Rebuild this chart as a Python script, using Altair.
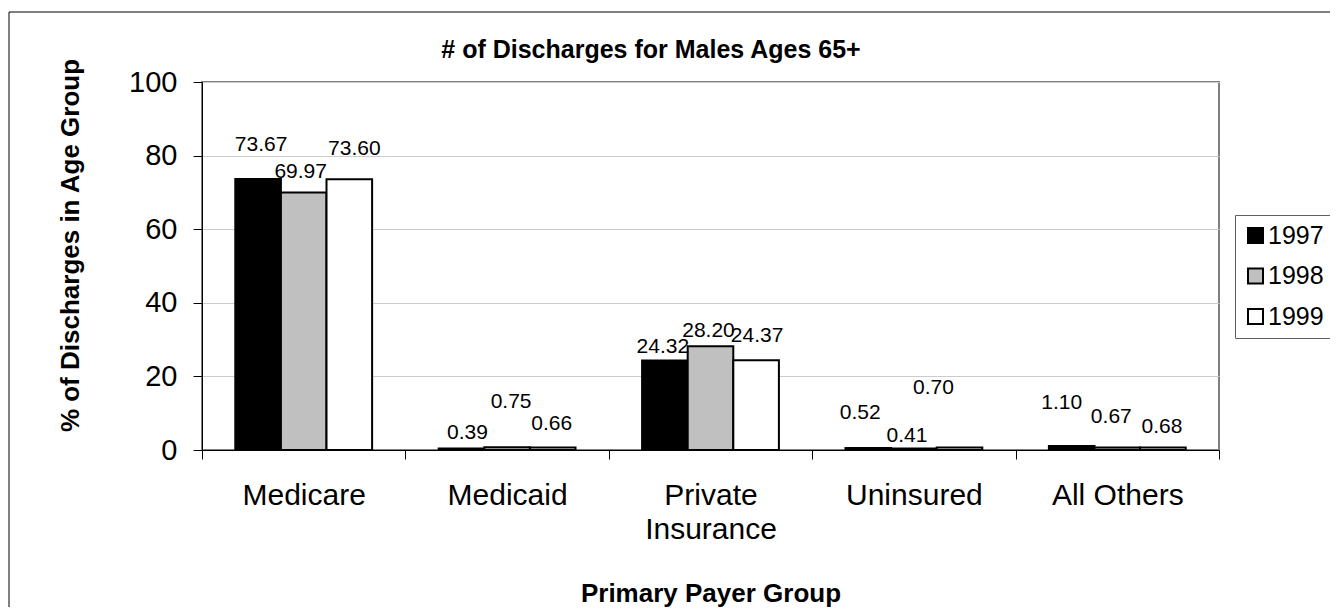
import altair as alt
import pandas as pd

# ---- data ----
categories = ["Medicare", "Medicaid", "Private Insurance", "Uninsured", "All Others"]
years = ["1997", "1998", "1999"]
v1997 = [73.67, 0.39, 24.32, 0.52, 1.10]
v1998 = [69.97, 0.75, 28.20, 0.41, 0.67]
v1999 = [73.60, 0.66, 24.37, 0.70, 0.68]
# height (in % units) at which each value label sits in the original
lab1997 = [82.9, 4.5, 28.0, 10.0, 12.7]
lab1998 = [75.6, 13.1, 32.3, 3.8, 9.0]
lab1999 = [81.7, 7.0, 31.0, 16.8, 6.3]
# horizontal nudge of each value label (px), as placed in the original
dx1997 = [3, 6, -2, -8, -10]
dx1998 = [-3, 4, -2, -7, -6]
dx1999 = [5, -1, 1, -26, -1]

title_text = "# of Discharges for Males Ages 65+"

rows = []
for yr, vals, labs, dxs in zip(years, [v1997, v1998, v1999],
                               [lab1997, lab1998, lab1999], [dx1997, dx1998, dx1999]):
    for c, v, l, d in zip(categories, vals, labs, dxs):
        rows.append({"payer": c, "year": yr, "value": v, "label_y": l, "dx": d})
df = pd.DataFrame(rows)
df["idx"] = range(len(df))

FONT = "Liberation Sans"

x_enc = alt.X(
    "payer:N",
    sort=categories,
    scale=alt.Scale(paddingInner=0, paddingOuter=0),
    axis=alt.Axis(
        title="Primary Payer Group",
        tickBand="extent",
        tickSize=9,
        tickColor="black",
        domainColor="black",
        labelAngle=0,
        labelFontSize=30,
        labelPadding=21,
        labelColor="black",
        labelLineHeight=34,
        labelExpr="datum.value == 'Private Insurance' ? ['Private', 'Insurance'] : datum.label",
        titleFontSize=26,
        titleFontWeight="bold",
        titleColor="black",
        titleBaseline="alphabetic",
        titleY=151,
        grid=False,
    ),
)
xoff_enc = alt.XOffset(
    "year:N", sort=years, scale=alt.Scale(paddingInner=0, paddingOuter=0.73)
)

bars = (
    alt.Chart(df)
    .mark_bar(stroke="black", strokeWidth=2)
    .encode(
        x=x_enc,
        xOffset=xoff_enc,
        y=alt.Y(
            "value:Q",
            scale=alt.Scale(domain=[0, 100], nice=False),
            axis=alt.Axis(
                title="% of Discharges in Age Group",
                values=[0, 20, 40, 60, 80, 100],
                tickSize=9,
                tickColor="black",
                domainColor="black",
                gridColor="#cccccc",
                labelFontSize=29,
                labelPadding=16,
                labelColor="black",
                titleFontSize=26,
                titleFontWeight="bold",
                titleColor="black",
                titleAngle=270,
                titleX=-132,
                titleY=163,
                titleAlign="center",
                titleBaseline="middle",
            ),
        ),
        fill=alt.Fill(
            "year:N",
            sort=years,
            scale=alt.Scale(domain=years, range=["#000000", "#c0c0c0", "#ffffff"]),
            legend=alt.Legend(
                title=None,
                orient="none",
                legendX=1033,
                legendY=133,
                strokeColor="#606060",
                padding=8,
                rowPadding=14.5,
                symbolType="square",
                symbolSize=225,
                symbolStrokeColor="black",
                symbolStrokeWidth=2,
                labelFontSize=25,
                labelOffset=0,
                labelColor="black",
            ),
        ),
    )
)

label_layers = []
for _, r in df.iterrows():
    txt = (
        alt.Chart(df)
        .transform_filter(alt.datum.idx == int(r["idx"]))
        .mark_text(
            fontSize=21, font=FONT, baseline="middle", align="center",
            color="black", dx=int(r["dx"]),
        )
        .encode(
            x=alt.X("payer:N", sort=categories),
            xOffset=alt.XOffset("year:N", sort=years),
            y=alt.Y("label_y:Q"),
            text=alt.Text("value:Q", format=".2f"),
        )
    )
    label_layers.append(txt)

title = (
    alt.Chart(pd.DataFrame({"t": [title_text]}))
    .mark_text(fontSize=25, fontWeight="bold", font=FONT, align="center",
               baseline="alphabetic", color="black")
    .encode(text="t:N", x=alt.value(449), y=alt.value(-24))
)

frame = (
    alt.Chart(pd.DataFrame({"a": [0]}))
    .mark_rect(fillOpacity=0, stroke="black", strokeWidth=1)
    .encode(
        x=alt.value(-193), x2=alt.value(3000), y=alt.value(-70), y2=alt.value(3000)
    )
)

chart = (
    alt.layer(frame, bars, *label_layers, title)
    .properties(
        width=1017,
        height=368,
        padding={"left": 194, "top": 74, "right": 111, "bottom": 157},
        autosize=alt.AutoSizeParams(type="none"),
    )
    .configure(font=FONT, background="white")
    .configure_view(stroke="#808080", strokeWidth=2)
)

chart.save("out.html", embed_options={"renderer": "svg", "actions": False})
